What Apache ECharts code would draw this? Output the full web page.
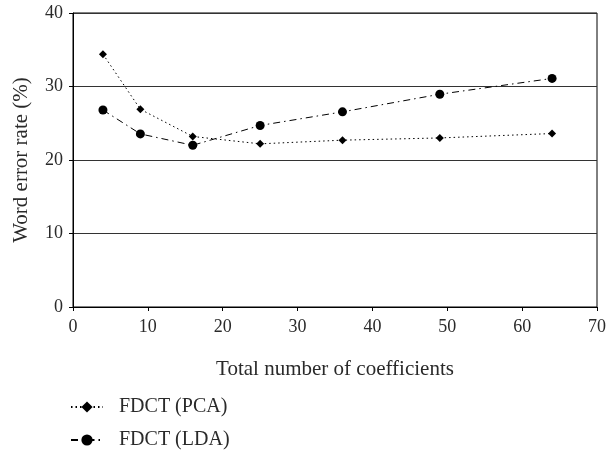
<!DOCTYPE html>
<html><head><meta charset="utf-8">
<script src="https://cdn.jsdelivr.net/npm/echarts@6/dist/echarts.min.js"></script>
<style>html,body{margin:0;padding:0;background:#fff}#c{width:609px;height:454px}</style>
</head><body><div id="c"></div>
<script>
const xValues = [4, 9, 16, 25, 36, 49, 64];
const pcaValues = [34.4, 26.9, 23.2, 22.2, 22.7, 23.0, 23.6];
const ldaValues = [26.8, 23.55, 22.0, 24.7, 26.55, 28.95, 31.1];
const seriesNames = ['FDCT (PCA)', 'FDCT (LDA)'];
const xTitle = 'Total number of coefficients';
const yTitle = 'Word error rate (%)';

const font = 'Liberation Serif';
const txt = '#2a2a2a';
const chart = echarts.init(document.getElementById('c'), null, {renderer: 'canvas'});
chart.setOption({
  animation: false,
  backgroundColor: '#fff',
  grid: {left: 73, right: 9, top: 13, bottom: 147, show: true, borderColor: '#000', borderWidth: 1},
  legend: {
    orient: 'vertical', left: 70, top: 397, padding: 0, itemWidth: 32, itemHeight: 14, itemGap: 13,
    textStyle: {fontFamily: font, fontSize: 20, lineHeight: 20, color: txt, padding: [0, 0, 0, 11]},
    data: seriesNames
  },
  xAxis: {
    type: 'value', min: 0, max: 70, interval: 10,
    name: xTitle, nameLocation: 'middle', nameGap: 52,
    nameTextStyle: {fontFamily: font, fontSize: 21, color: txt},
    axisLine: {lineStyle: {color: '#000', width: 1}},
    axisTick: {show: true, length: 4, lineStyle: {color: '#000'}},
    axisLabel: {fontFamily: font, fontSize: 18, color: txt, margin: 11},
    splitLine: {show: false}
  },
  yAxis: {
    type: 'value', min: 0, max: 40, interval: 10,
    name: yTitle, nameLocation: 'middle', nameGap: 41,
    nameTextStyle: {fontFamily: font, fontSize: 21, color: txt},
    axisLine: {show: true, lineStyle: {color: '#000', width: 1}},
    axisTick: {show: true, length: 4, lineStyle: {color: '#000'}},
    axisLabel: {fontFamily: font, fontSize: 18, color: txt, margin: 10},
    splitLine: {show: true, lineStyle: {color: '#333', width: 1}}
  },
  series: [
    {
      name: seriesNames[0], type: 'line',
      data: xValues.map((x, i) => [x, pcaValues[i]]),
      symbol: 'diamond', symbolSize: 8,
      itemStyle: {color: '#000'},
      lineStyle: {color: '#000', width: 1, type: [1.5, 3]}
    },
    {
      name: seriesNames[1], type: 'line',
      data: xValues.map((x, i) => [x, ldaValues[i]]),
      symbol: 'circle', symbolSize: 9,
      itemStyle: {color: '#000'},
      lineStyle: {color: '#000', width: 1, type: [7, 4, 1.5, 4]}
    }
  ]
});
</script></body></html>
